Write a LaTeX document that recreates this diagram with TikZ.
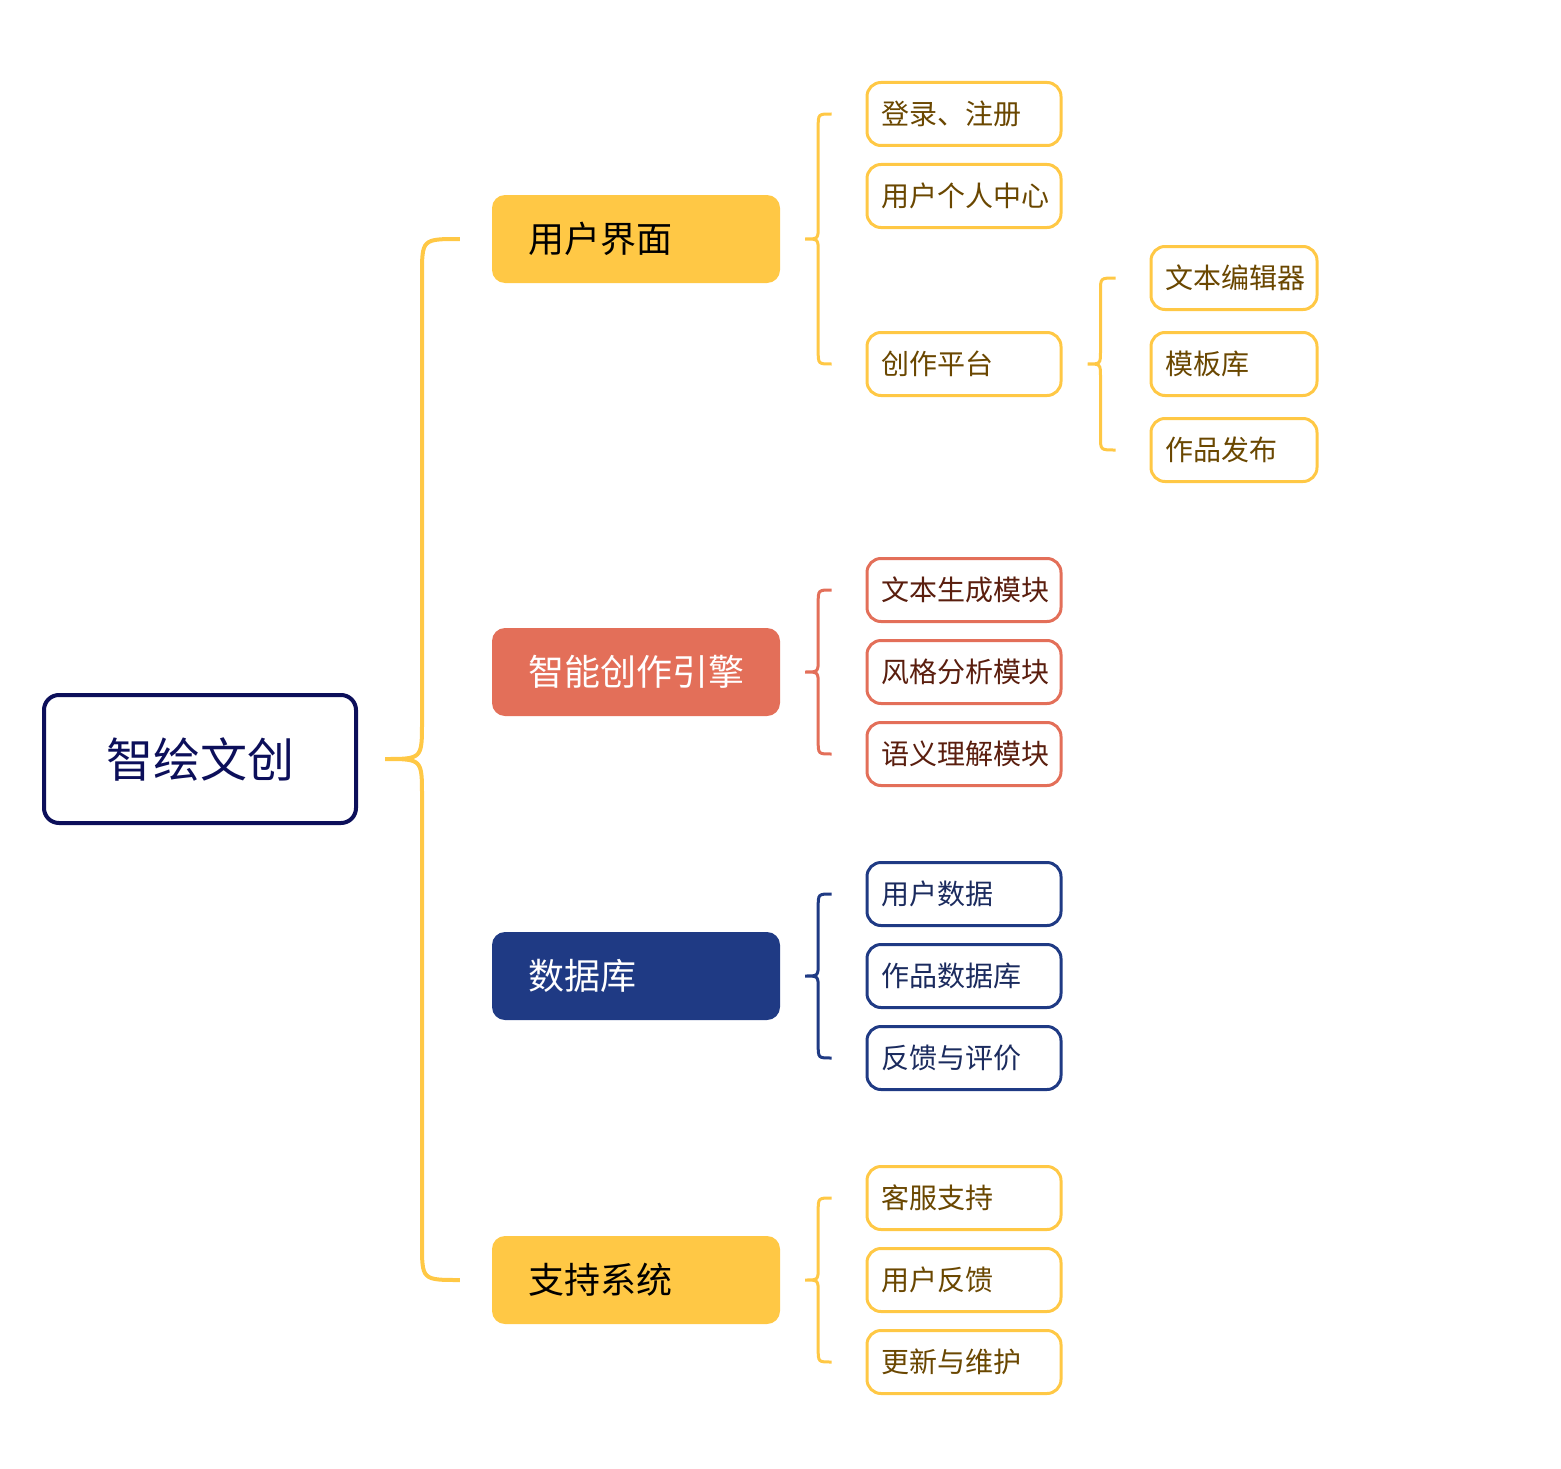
\documentclass[tikz,border=0pt]{standalone}
\usepackage{fontspec}
\setmainfont{Noto Sans CJK SC}
\usetikzlibrary{calc}
\definecolor{ylw}{HTML}{FFC845}
\definecolor{coral}{HTML}{E36F59}
\definecolor{navyb}{HTML}{1F3A84}
\definecolor{rootc}{HTML}{0C0F5A}
\definecolor{brownt}{HTML}{6A4700}
\definecolor{redt}{HTML}{5A1E0E}
\definecolor{bluet}{HTML}{1B2B5E}
\tikzset{
  rootbox/.style={draw=rootc, line width=4pt, rounded corners=15pt, fill=white,
    minimum width=312pt, minimum height=128pt, text=rootc,
    font=\fontsize{47}{56}\selectfont},
  lonebox/.style={rounded corners=13pt, minimum height=88pt, text width=216pt,
    inner xsep=36pt, inner ysep=0pt, align=left, font=\fontsize{36}{44}\selectfont},
  leafbox/.style={line width=3pt, rounded corners=14pt, fill=white, minimum height=63pt,
    text width=166pt, inner xsep=14pt, inner ysep=0pt, align=left,
    font=\fontsize{28}{34}\selectfont},
  subbox/.style={leafbox, text width=138pt},
  ybox/.style={leafbox, draw=ylw, text=brownt},
  ysub/.style={subbox, draw=ylw, text=brownt},
  rbox/.style={leafbox, draw=coral, text=redt},
  bbox/.style={leafbox, draw=navyb, text=bluet},
}
% \bracelink{parent}{top child}{bottom child}{tip gap}{end gap}{radius}
\newcommand{\bracelink}[7]{%
  \draw[#7] let \p1=($(#1.east)+(#4,0)$), \p2=($(#2.west)+(-#5,0)$), \p3=($(#3.west)+(-#5,0)$),
    \n1={\x1+#6} in
    (\x2,\y2) .. controls (\n1,\y2) .. (\n1,{\y2-#6})
    -- (\n1,{\y1+#6}) .. controls (\n1,\y1) .. (\x1,\y1)
    .. controls (\n1,\y1) .. (\n1,{\y1-#6})
    -- (\n1,{\y3+#6}) .. controls (\n1,\y3) .. (\x3,\y3);}
\begin{document}
\begin{tikzpicture}[x=1pt,y=-1pt]
\useasboundingbox (0,0) rectangle (1561,1469);
\node[rootbox] (root) at (200,759) {智绘文创};

\node[lonebox, fill=ylw, text=black] (ui) at (636,239) {用户界面};
\node[lonebox, fill=coral, text=white] (eng) at (636,672) {智能创作引擎};
\node[lonebox, fill=navyb, text=white] (db) at (636,976) {数据库};
\node[lonebox, fill=ylw, text=black] (sup) at (636,1280) {支持系统};

\node[ybox] (login) at (964,114) {登录、注册};
\node[ybox] (center) at (964,196) {用户个人中心};
\node[ybox] (plat) at (964,364) {创作平台};
\node[ysub] (edit) at (1234,278) {文本编辑器};
\node[ysub] (tmpl) at (1234,364) {模板库};
\node[ysub] (pub) at (1234,450) {作品发布};

\node[rbox] (gen) at (964,590) {文本生成模块};
\node[rbox] (style) at (964,672) {风格分析模块};
\node[rbox] (sem) at (964,754) {语义理解模块};

\node[bbox] (udata) at (964,894) {用户数据};
\node[bbox] (wdata) at (964,976) {作品数据库};
\node[bbox] (fb) at (964,1058) {反馈与评价};

\node[ybox] (cs) at (964,1198) {客服支持};
\node[ybox] (ufb) at (964,1280) {用户反馈};
\node[ybox] (upd) at (964,1362) {更新与维护};

\bracelink{root}{ui}{sup}{27}{32}{37}{draw=ylw, line width=4pt}
\bracelink{ui}{login}{plat}{25}{34}{13}{draw=ylw, line width=3pt}
\bracelink{plat}{edit}{pub}{25}{34}{13}{draw=ylw, line width=3pt}
\bracelink{eng}{gen}{sem}{25}{34}{13}{draw=coral, line width=3pt}
\bracelink{db}{udata}{fb}{25}{34}{13}{draw=navyb, line width=3pt}
\bracelink{sup}{cs}{upd}{25}{34}{13}{draw=ylw, line width=3pt}
\end{tikzpicture}
\end{document}
